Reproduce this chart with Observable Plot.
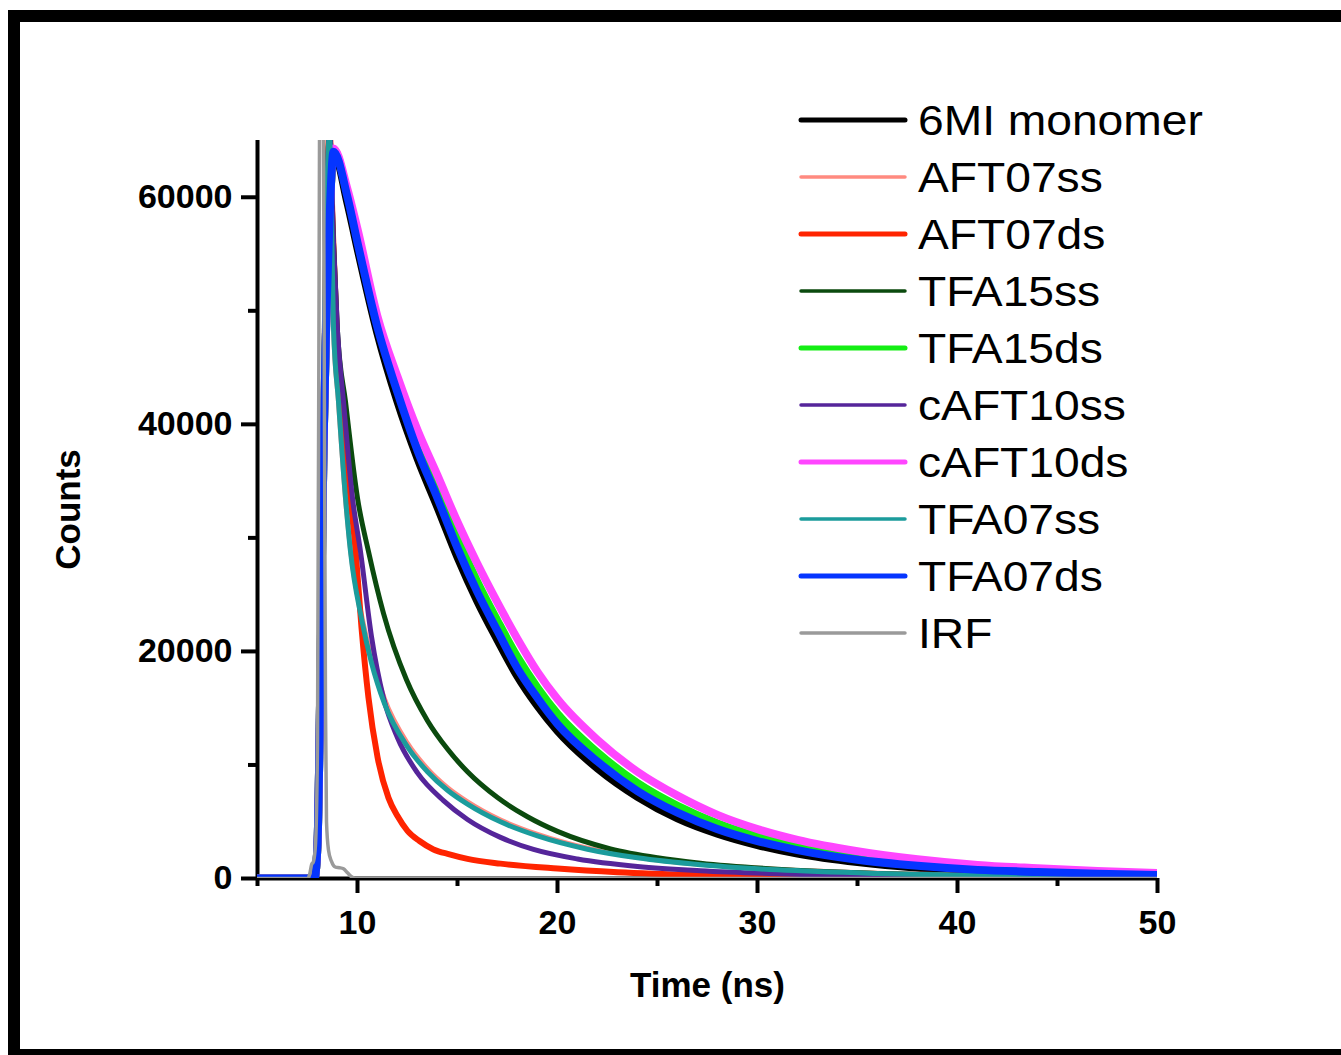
<!DOCTYPE html>
<html>
<head>
<meta charset="utf-8">
<script src="https://cdn.jsdelivr.net/npm/d3@7"></script>
<script src="https://cdn.jsdelivr.net/npm/@observablehq/plot@0.6"></script>
<style>
  html, body { margin: 0; padding: 0; background: #fff; }
  #page { position: relative; width: 1341px; height: 1055px; overflow: hidden; background: #fff; }
  #frame { position: absolute; left: 8px; top: 10px; width: 1326px; height: 1027px; border: 12px solid #000; }
  #chart { position: absolute; left: 0; top: 0; }
  #legend { position: absolute; left: 0; top: 0; }
</style>
</head>
<body>
<div id="page">
  <div id="frame"></div>
  <div id="chart"></div>
  <div id="legend"></div>
</div>
<script>
// ---- data ----
const seriesNames = ["6MI monomer", "AFT07ss", "AFT07ds", "TFA15ss", "TFA15ds", "cAFT10ss", "cAFT10ds", "TFA07ss", "TFA07ds", "IRF"];
const seriesColors = ["#000000", "#ff8a80", "#ff2400", "#0b4a0e", "#14ee14", "#55259a", "#ff46ff", "#1b9c9c", "#0535ff", "#9a9a9a"];
const lineWidths = [8, 5, 6, 5, 8, 5, 8, 5, 8, 3.5];
const legendWidths = [5, 3.5, 5, 3.5, 5, 3.5, 5, 3.5, 5, 3.5];

const xMajorTicks = [10, 20, 30, 40, 50];
const xMinorTicks = [5, 15, 25, 35, 45];
const yMajorTicks = [0, 20000, 40000, 60000];
const yMinorTicks = [10000, 30000, 50000];

// slow (ds) group shares one time grid (ns)
const tMain = [5, 7.85, 8.0, 8.1, 8.2, 8.3, 8.45, 8.6, 8.8, 9.5, 10, 11, 12, 13, 14, 15, 16, 17, 18, 19, 20, 22, 24, 26, 28, 30, 32, 35, 38, 41, 44, 47, 50];
const c6MI     = [0, 0, 3000, 12000, 25000, 38000, 50000, 58000, 64000, 59500, 55500, 48000, 42000, 37000, 32700, 28300, 24400, 21000, 17800, 15200, 13000, 9700, 7200, 5300, 3950, 2950, 2200, 1450, 950, 640, 450, 320, 230];
const cTFA15ds = [0, 0, 3000, 12000, 25000, 38000, 50000, 58000, 64200, 60300, 56500, 49000, 43400, 38400, 34300, 30000, 26100, 22700, 19500, 16800, 14500, 11100, 8400, 6400, 4850, 3700, 2800, 1850, 1250, 850, 600, 450, 320];
const cAFT10ds = [0, 0, 3000, 12000, 25000, 38000, 50000, 58000, 64300, 60700, 57200, 49500, 44200, 39500, 35500, 31400, 27700, 24300, 21100, 18200, 15800, 12200, 9400, 7300, 5600, 4350, 3400, 2400, 1700, 1200, 900, 650, 480];
const cTFA07ds = [0, 0, 3000, 12000, 25000, 38000, 50000, 58000, 64000, 60000, 56000, 48500, 42800, 37700, 33500, 29100, 25200, 21800, 18500, 15900, 13600, 10300, 7700, 5800, 4350, 3300, 2500, 1650, 1120, 760, 580, 420, 300];

// AFT07ds
const tAFT07ds = [5, 7.85, 8.0, 8.2, 8.4, 8.6, 8.75, 8.95, 9.25, 9.65, 9.9, 10.2, 10.55, 11, 11.55, 12.0, 12.5, 13.1, 13.8, 14.6, 15.5, 17.15, 20, 23, 27, 32, 40, 50];
const cAFT07ds = [0, 0, 3000, 25000, 52000, 66000, 58000, 48500, 41500, 33500, 29000, 22100, 15900, 10700, 7100, 5500, 4200, 3300, 2560, 2130, 1730, 1310, 880, 560, 310, 160, 72, 30];

// AFT07ss and TFA07ss
const tSS07 = [5, 7.8, 7.95, 8.15, 8.4, 8.6, 8.7, 8.8, 9.05, 9.4, 9.65, 10.2, 10.7, 11.35, 12.5, 13.5, 14.5, 15.5, 17.15, 19, 21.5, 24, 27.15, 31, 36, 42, 50];
const cTFA07ss = [0, 0, 3000, 25000, 55000, 65500, 58000, 48500, 42000, 33500, 28800, 22900, 19000, 15400, 11600, 9400, 7770, 6550, 4990, 3750, 2580, 1820, 1210, 760, 440, 240, 117];
const cAFT07ss = [0, 0, 3000, 25000, 55000, 65500, 58000, 48500, 42000, 33500, 29000, 23200, 19400, 15800, 11900, 9650, 8000, 6750, 5150, 3880, 2660, 1880, 1250, 790, 455, 250, 120];

// cAFT10ss
const tCAFT10ss = [5, 7.85, 8.0, 8.2, 8.4, 8.6, 8.8, 9.0, 9.3, 9.75, 10.15, 10.7, 11.3, 12, 13, 14.3, 15.5, 17.15, 18.8, 21, 24, 27.15, 31, 36, 42, 50];
const cCAFT10ss = [0, 0, 3000, 25000, 52000, 66000, 56000, 48200, 42000, 33500, 28800, 21300, 15900, 12400, 9300, 6860, 5200, 3620, 2560, 1720, 1065, 685, 415, 228, 117, 53];

// TFA15ss
const tTFA15ss = [5, 7.85, 8.0, 8.2, 8.4, 8.6, 8.8, 9.0, 9.4, 10.0, 10.55, 11.3, 12.45, 13.5, 14.5, 15.5, 17.0, 18.5, 20, 22.65, 25, 27.15, 31, 36, 42, 50];
const cTFA15ss = [0, 0, 3000, 25000, 52000, 66000, 56000, 48200, 42000, 33500, 28800, 23350, 17500, 13900, 11400, 9400, 7130, 5440, 4150, 2610, 1830, 1355, 820, 450, 232, 96];

// IRF
const tIRF = [5, 7.5, 7.6, 7.7, 7.8, 7.9, 8.0, 8.1, 8.2, 8.3, 8.4, 8.45, 8.55, 8.7, 8.9, 9.1, 9.3, 9.5, 9.7, 9.9, 50];
const cIRF = [0, 0, 300, 1200, 1500, 3000, 12000, 65000, 95000, 65000, 15000, 5000, 2500, 1500, 1000, 950, 850, 500, 150, 0, 0];

// ---- build tables ----
const seriesData = [
  [tMain, c6MI], [tSS07, cAFT07ss], [tAFT07ds, cAFT07ds], [tTFA15ss, cTFA15ss], [tMain, cTFA15ds],
  [tCAFT10ss, cCAFT10ss], [tMain, cAFT10ds], [tSS07, cTFA07ss], [tMain, cTFA07ds], [tIRF, cIRF]
];
const tables = seriesData.map(([ts, cs]) => ts.map((t, i) => ({t, c: cs[i]})));

const font = "'Liberation Sans', Arial, Helvetica, sans-serif";

const lineMarks = tables.map((rows, i) =>
  Plot.line(rows, {x: "t", y: "c", stroke: seriesColors[i], strokeWidth: lineWidths[i], curve: "monotone-x", clip: true, strokeLinejoin: "round"})
);

const chart = Plot.plot({
  width: 1341,
  height: 1055,
  marginLeft: 257,
  marginRight: 184,
  marginTop: 140,
  marginBottom: 177,
  style: {fontFamily: font, background: "transparent", color: "#000", overflow: "visible"},
  x: {domain: [5, 50]},
  y: {domain: [0, 65000]},
  marks: [
    Plot.axisX(xMajorTicks, {tickSize: 15, tickPadding: 16, strokeWidth: 4, fontSize: 34, fontWeight: "bold", fontFamily: font, label: null, tickFormat: d => String(d)}),
    Plot.axisX(xMinorTicks, {tickSize: 8, strokeWidth: 4, label: null, tickFormat: () => ""}),
    Plot.axisY(yMajorTicks, {tickSize: 16, tickPadding: 9, strokeWidth: 4, fontSize: 34, fontWeight: "bold", fontFamily: font, label: null, tickFormat: d => String(d)}),
    Plot.axisY(yMinorTicks, {tickSize: 9, strokeWidth: 4, label: null, tickFormat: () => ""}),
    Plot.ruleY([0], {strokeWidth: 4, stroke: "#000"}),
    Plot.ruleX([5], {strokeWidth: 4, stroke: "#000"}),
    ...lineMarks,
    Plot.text(["Counts"], {frameAnchor: "left", dx: -189, rotate: -90, textAnchor: "middle", lineAnchor: "middle", fontSize: 35, fontWeight: "bold", fontFamily: font, fill: "#000"}),
    Plot.text(["Time (ns)"], {frameAnchor: "bottom", dy: 107, textAnchor: "middle", lineAnchor: "middle", fontSize: 35, fontWeight: "bold", fontFamily: font, fill: "#000"})
  ]
});
document.getElementById("chart").appendChild(chart);

// ---- legend ----
const leg = d3.select("#legend").append("svg").attr("width", 1341).attr("height", 1055)
  .style("font-family", font);
const rowY = d3.scalePoint().domain(seriesNames).range([120, 633]);
const rows = leg.selectAll("g").data(seriesNames).join("g")
  .attr("transform", d => `translate(0,${rowY(d)})`);
rows.append("line").attr("x1", 801).attr("x2", 905).attr("y1", 0).attr("y2", 0)
  .attr("stroke", (d, i) => seriesColors[i]).attr("stroke-width", (d, i) => legendWidths[i])
  .attr("stroke-linecap", "round");
rows.append("text").attr("transform", "translate(918,15) scale(1.1,1)")
  .attr("font-size", 42).attr("fill", "#000").text(d => d);
</script>
</body>
</html>
